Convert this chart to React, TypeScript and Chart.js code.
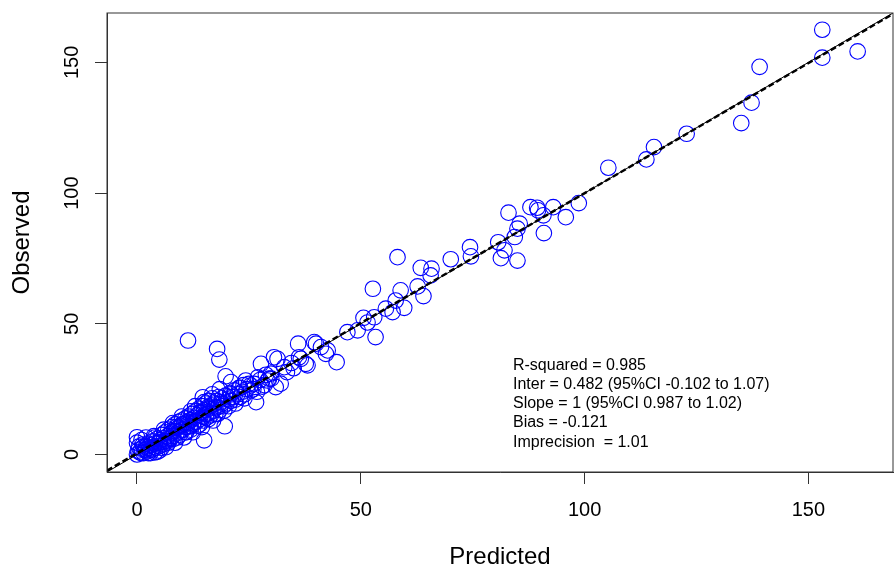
import React, { useEffect, useRef } from "react";
import { Chart, registerables } from "chart.js";

Chart.register(...registerables);

// Predicted (x) and observed (y) values
const predicted = [
  153.1, 161.0, 153.1, 139.1, 137.3, 135.0, 122.8, 115.5, 113.8, 105.3,
  98.7, 95.8, 93.0, 90.9, 89.4, 87.9, 89.6, 90.8, 83.0, 85.5,
  85.0, 84.4, 80.7, 82.1, 81.3, 85.0, 74.4, 74.6, 70.1, 58.2,
  63.4, 65.8, 65.6, 62.7, 64.0, 58.9, 52.7, 57.8, 59.7, 57.1,
  55.6, 50.6, 53.0, 49.3, 53.3, 44.6, 47.0, 51.5, 36.0, 40.0,
  41.1, 42.6, 36.6, 38.1, 39.6, 42.2, 36.2, 37.7, 27.7, 31.4,
  32.9, 30.6, 31.0, 32.1, 29.9, 29.2, 24.3, 25.4, 26.6, 11.4,
  17.9, 18.4, 19.8, 21.0, 15.0, 19.6, 14.7, 0.0, 19.5, 34.5,
  33.5, 35.0, 28.5, 27.0, 26.0, 30.0,
  0.0, 0.2, 0.4, 0.0, 0.6, 1.0, 1.3, 1.5, 1.8, 2.0,
  2.3, 2.5, 2.8, 3.0, 3.2, 3.5, 3.8, 4.0, 4.2, 4.5,
  4.8, 5.0, 5.2, 5.5, 5.8, 6.0, 6.3, 6.5, 6.8, 7.0,
  7.2, 7.5, 7.8, 8.0, 8.3, 8.5, 8.8, 9.0, 9.3, 9.5,
  9.8, 10.0, 10.3, 10.5, 10.8, 11.0, 11.3, 11.5, 11.8, 12.0,
  12.3, 12.5, 12.8, 13.0, 13.3, 13.5, 13.8, 14.0, 14.3, 14.5,
  14.8, 15.0, 15.3, 15.5, 15.8, 16.0, 16.3, 16.5, 16.8, 17.0,
  17.3, 17.5, 17.8, 18.0, 18.3, 18.5, 18.8, 19.0, 19.3, 19.8,
  20.0, 20.3, 20.8, 21.0, 21.5, 21.8, 22.0, 22.5, 22.8, 23.0,
  23.5, 23.8, 24.0, 24.5, 25.0, 25.5, 26.2, 26.8, 27.5, 28.0,
  28.8, 29.5, 1.0, 2.0, 3.0, 5.0, 7.0, 9.0, 11.0, 12.0,
  14.0, 16.0, 3.8, 6.0, 8.0, 10.0, 12.0, 13.0, 15.0, 16.8,
  18.5, 8.5, 10.5, 12.5, 6.5, 4.5, 14.5, 17.0,
  1.5, 2.5, 3.5, 4.0, 5.0, 5.5, 6.0, 6.8, 7.5, 7.8,
  8.2, 8.8, 9.5, 10.0, 10.8, 11.5, 12.0, 12.8, 13.5, 14.0,
  14.8, 15.5, 16.0, 16.5, 17.5, 18.0, 19.0, 20.5, 21.0, 22.0,
  23.0, 24.0, 2.0, 1.0, 4.0,
];
const observed = [
  162.5, 154.2, 151.8, 148.3, 134.6, 126.8, 122.7, 117.6, 112.9, 109.7,
  96.2, 90.8, 94.6, 84.7, 94.4, 94.6, 93.4, 91.5, 92.5, 88.3,
  86.4, 83.2, 81.2, 78.1, 75.1, 74.2, 79.3, 75.8, 74.7, 75.5,
  71.4, 71.1, 68.5, 64.3, 60.6, 62.8, 63.4, 58.9, 56.1, 54.5,
  55.8, 52.3, 52.5, 47.5, 44.9, 35.3, 46.8, 50.5, 42.4, 42.4,
  41.1, 39.8, 36.6, 34.1, 43.0, 38.5, 37.2, 34.7, 34.7, 36.6,
  33.4, 37.2, 25.8, 27.1, 30.9, 28.3, 28.3, 26.4, 20.0, 43.6,
  40.4, 36.3, 29.9, 27.7, 5.4, 10.8, 21.9, 6.6, 16.8, 35.0,
  31.5, 33.0, 26.5, 29.5, 25.0, 29.0,
  0.0, 1.5, 3.0, 4.5, 0.8, 2.2, 3.8, 0.5, 1.8, 3.0,
  1.2, 4.2, 2.5, 3.5, 1.8, 5.0, 3.0, 4.2, 2.5, 6.0,
  4.5, 3.2, 5.5, 7.5, 4.8, 6.2, 8.5, 5.2, 7.0, 9.5,
  6.2, 8.0, 10.5, 7.0, 9.0, 11.5, 8.0, 10.0, 12.5, 8.8,
  11.0, 13.0, 9.5, 11.8, 13.8, 10.5, 12.5, 14.5, 11.0, 13.2,
  15.5, 11.8, 14.0, 16.5, 12.5, 15.0, 17.5, 13.5, 16.0, 18.5,
  14.5, 17.0, 19.5, 15.5, 18.0, 20.5, 16.0, 18.8, 21.5, 16.8,
  19.5, 15.5, 20.5, 18.0, 22.0, 17.0, 20.0, 21.5, 18.5, 22.5,
  19.5, 21.0, 23.5, 20.5, 22.0, 24.5, 21.0, 23.0, 25.5, 22.0,
  24.0, 26.5, 23.0, 25.0, 27.0, 24.5, 27.0, 24.0, 28.5, 26.0,
  30.5, 29.0, 5.5, 6.5, 0.5, 1.5, 4.5, 6.5, 8.5, 9.5,
  11.5, 13.5, 7.0, 9.5, 12.0, 14.5, 16.5, 18.5, 20.0, 23.0,
  25.0, 4.5, 6.5, 8.5, 2.8, 1.0, 10.5, 13.0,
  3.0, 0.5, 2.0, 6.5, 4.5, 2.5, 4.0, 5.0, 6.0, 8.5,
  6.0, 10.5, 7.5, 11.5, 8.5, 12.0, 10.8, 12.5, 11.0, 16.0,
  13.0, 14.0, 17.5, 15.0, 18.0, 15.5, 19.5, 18.5, 23.0, 19.5,
  25.5, 21.5, 2.0, 0.5, 0.8,
];

const axisLimits = [-6.7, 168.9];
const xTicks = [0, 50, 100, 150];
const yTicks = [0, 50, 100, 150];
const regIntercept = 0.482;
const regSlope = 0.995;
const statsLines = [
  "R-squared = 0.985",
  "Inter = 0.482 (95%CI -0.102 to 1.07)",
  "Slope = 1 (95%CI 0.987 to 1.02)",
  "Bias = -0.121",
  "Imprecision  = 1.01",
];
const statsAnchor = [84.0, 34.1];

const FONT = '"Liberation Sans", Arial, sans-serif';

const boxPlugin = {
  id: "boxAndStats",
  afterDraw(chart: any) {
    const { ctx, chartArea: a, scales } = chart;
    ctx.save();
    ctx.strokeStyle = "#333";
    ctx.lineWidth = 1;
    ctx.strokeRect(a.left, a.top, a.right - a.left, a.bottom - a.top);
    ctx.fillStyle = "#000";
    ctx.font = `16px ${FONT}`;
    ctx.textAlign = "left";
    ctx.textBaseline = "middle";
    const x0 = scales.x.getPixelForValue(statsAnchor[0]);
    const y0 = scales.y.getPixelForValue(statsAnchor[1]);
    statsLines.forEach((t, i) => ctx.fillText(t, x0, y0 + i * 19.2));
    ctx.restore();
  },
};

const zeroPad = (s: any) => {
  s.paddingLeft = 0;
  s.paddingRight = 0;
  s.paddingTop = 0;
  s.paddingBottom = 0;
};

export default function App() {
  const ref = useRef<HTMLCanvasElement | null>(null);
  useEffect(() => {
    if (!ref.current) return;
    const pts = predicted.map((x, i) => ({ x, y: observed[i] }));
    const identity = axisLimits.map((v) => ({ x: v, y: v }));
    const reg = axisLimits.map((v) => ({ x: v, y: regIntercept + regSlope * v }));
    const gridCfg = {
      display: true,
      drawOnChartArea: false,
      drawTicks: true,
      tickLength: 12,
      color: "#333",
      tickColor: "#333",
    };
    const chart = new Chart(ref.current, {
      type: "scatter",
      data: {
        datasets: [
          {
            type: "line",
            data: identity,
            borderColor: "#000",
            borderWidth: 1,
            pointRadius: 0,
            order: 0,
          } as any,
          {
            type: "line",
            data: reg,
            borderColor: "#000",
            borderWidth: 2.5,
            borderDash: [6, 3],
            pointRadius: 0,
            order: 0,
          } as any,
          {
            data: pts,
            pointStyle: "circle",
            pointRadius: 7.8,
            borderWidth: 1.1,
            borderColor: "#0000ff",
            backgroundColor: "rgba(0,0,0,0)",
            order: 1,
          },
        ],
      },
      options: {
        animation: false,
        responsive: true,
        maintainAspectRatio: false,
        layout: { autoPadding: false, padding: { left: 0, top: 13, right: 1, bottom: 0 } },
        plugins: { legend: { display: false }, tooltip: { enabled: false } },
        scales: {
          x: {
            type: "linear",
            min: axisLimits[0],
            max: axisLimits[1],
            afterBuildTicks: (s: any) => {
              s.ticks = xTicks.map((v) => ({ value: v }));
            },
            afterFit: (s: any) => {
              s.height = 97;
              zeroPad(s);
            },
            grid: gridCfg,
            border: { display: true, color: "#333" },
            ticks: {
              color: "#000",
              font: { family: FONT, size: 20 },
              padding: 14,
              maxRotation: 0,
              autoSkip: false,
            },
            title: {
              display: true,
              text: "Predicted",
              color: "#000",
              font: { family: FONT, size: 24 },
              padding: { top: 0, bottom: -3 },
            },
          },
          y: {
            type: "linear",
            min: axisLimits[0],
            max: axisLimits[1],
            afterBuildTicks: (s: any) => {
              s.ticks = yTicks.map((v) => ({ value: v }));
            },
            afterFit: (s: any) => {
              s.width = 107;
              zeroPad(s);
            },
            grid: gridCfg,
            border: { display: true, color: "#333" },
            ticks: {
              color: "#000",
              font: { family: FONT, size: 20 },
              padding: 6,
              minRotation: 90,
              maxRotation: 90,
              crossAlign: "center",
              autoSkip: false,
            },
            title: {
              display: true,
              text: "Observed",
              color: "#000",
              font: { family: FONT, size: 24 },
              padding: { top: 8, bottom: 0 },
            },
          },
        },
      } as any,
      plugins: [boxPlugin],
    });
    return () => chart.destroy();
  }, []);
  return (
    <div style={{ position: "fixed", left: 0, top: 0, width: 894, height: 569 }}>
      <canvas ref={ref} />
    </div>
  );
}
